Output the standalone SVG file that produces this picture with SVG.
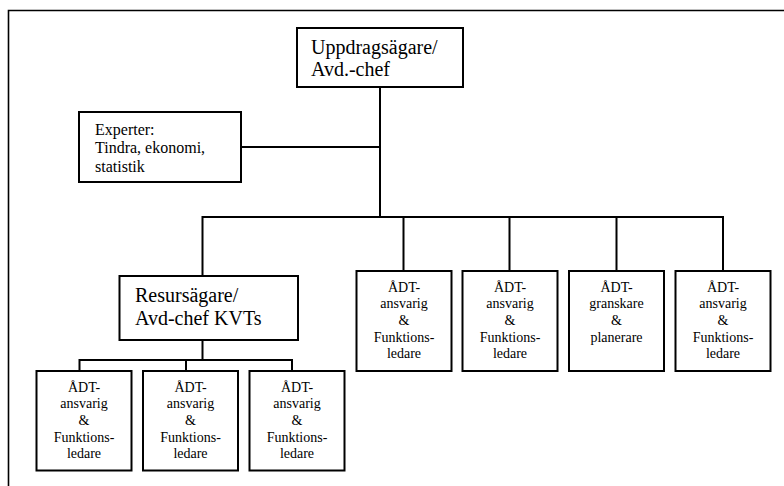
<svg xmlns="http://www.w3.org/2000/svg" width="784" height="486" viewBox="0 0 784 486">
  <style>
    .box { fill: #fff; stroke: #000; stroke-width: 2; }
    .wire { fill: none; stroke: #000; stroke-width: 2; }
    .frame { fill: none; stroke: #000; stroke-width: 1.6; }
    text { font-family: "Liberation Serif", "Times New Roman", serif; fill: #000; }
    .big { font-size: 20px; }
    .mid { font-size: 16px; }
    .small { font-size: 14px; text-anchor: middle; }
  </style>

  <!-- page frame -->
  <path class="frame" d="M8.5 486 V10.5 H784"/>

  <!-- connectors -->
  <g id="connectors">
    <path class="wire" d="M380 87 V217"/>
    <path class="wire" d="M241 147 H380"/>
    <path class="wire" d="M202.5 276 V217 H723 V271"/>
    <path class="wire" d="M403.5 217 V271 M509.5 217 V271 M616.5 217 V271"/>
    <path class="wire" d="M202.5 340 V360"/>
    <path class="wire" d="M79.5 371 V360 H292 V371 M186 360 V371"/>
  </g>

  <g id="uppdragsagare">
    <rect class="box" x="297" y="28" width="166" height="59"/>
    <text class="big" x="311" y="54">Uppdragsägare/</text>
    <text class="big" x="311" y="76">Avd.-chef</text>
  </g>

  <g id="experter">
    <rect class="box" x="79" y="112" width="162" height="70"/>
    <text class="mid" x="95" y="135">Experter:</text>
    <text class="mid" x="95" y="153">Tindra, ekonomi,</text>
    <text class="mid" x="95" y="172">statistik</text>
  </g>

  <g id="resursagare">
    <rect class="box" x="119.5" y="276" width="178.5" height="64"/>
    <text class="big" x="135" y="302">Resursägare/</text>
    <text class="big" x="135" y="325">Avd-chef KVTs</text>
  </g>

  <g id="adt-1">
    <rect class="box" x="356.5" y="271" width="95" height="100"/>
    <text class="small" x="404" y="291.5">ÅDT-</text>
    <text class="small" x="404" y="308.2">ansvarig</text>
    <text class="small" x="404" y="324.9">&amp;</text>
    <text class="small" x="404" y="341.6">Funktions-</text>
    <text class="small" x="404" y="358.3">ledare</text>
  </g>

  <g id="adt-2">
    <rect class="box" x="462.5" y="271" width="95" height="100"/>
    <text class="small" x="510" y="291.5">ÅDT-</text>
    <text class="small" x="510" y="308.2">ansvarig</text>
    <text class="small" x="510" y="324.9">&amp;</text>
    <text class="small" x="510" y="341.6">Funktions-</text>
    <text class="small" x="510" y="358.3">ledare</text>
  </g>

  <g id="adt-granskare">
    <rect class="box" x="569" y="271" width="95" height="100"/>
    <text class="small" x="616.5" y="291.5">ÅDT-</text>
    <text class="small" x="616.5" y="308.2">granskare</text>
    <text class="small" x="616.5" y="324.9">&amp;</text>
    <text class="small" x="616.5" y="341.6">planerare</text>
  </g>

  <g id="adt-3">
    <rect class="box" x="675.5" y="271" width="95" height="100"/>
    <text class="small" x="723" y="291.5">ÅDT-</text>
    <text class="small" x="723" y="308.2">ansvarig</text>
    <text class="small" x="723" y="324.9">&amp;</text>
    <text class="small" x="723" y="341.6">Funktions-</text>
    <text class="small" x="723" y="358.3">ledare</text>
  </g>

  <g id="adt-4">
    <rect class="box" x="36.5" y="371" width="95" height="99.5"/>
    <text class="small" x="84" y="391.5">ÅDT-</text>
    <text class="small" x="84" y="408.2">ansvarig</text>
    <text class="small" x="84" y="424.9">&amp;</text>
    <text class="small" x="84" y="441.6">Funktions-</text>
    <text class="small" x="84" y="458.3">ledare</text>
  </g>

  <g id="adt-5">
    <rect class="box" x="143" y="371" width="95" height="99.5"/>
    <text class="small" x="190.5" y="391.5">ÅDT-</text>
    <text class="small" x="190.5" y="408.2">ansvarig</text>
    <text class="small" x="190.5" y="424.9">&amp;</text>
    <text class="small" x="190.5" y="441.6">Funktions-</text>
    <text class="small" x="190.5" y="458.3">ledare</text>
  </g>

  <g id="adt-6">
    <rect class="box" x="249.5" y="371" width="95" height="99.5"/>
    <text class="small" x="297" y="391.5">ÅDT-</text>
    <text class="small" x="297" y="408.2">ansvarig</text>
    <text class="small" x="297" y="424.9">&amp;</text>
    <text class="small" x="297" y="441.6">Funktions-</text>
    <text class="small" x="297" y="458.3">ledare</text>
  </g>
</svg>
